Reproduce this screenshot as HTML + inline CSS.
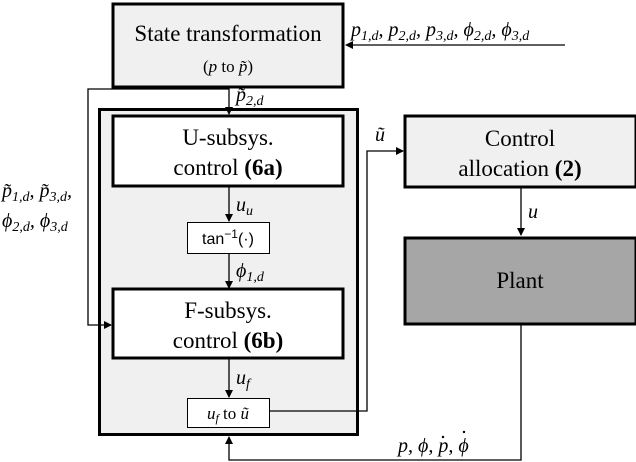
<!DOCTYPE html>
<html><head><meta charset="utf-8"><style>
html,body{margin:0;padding:0;background:#fff;}
svg{display:block;font-family:"Liberation Serif","Times New Roman",serif;}
svg text{font-family:"Liberation Serif","Times New Roman",serif;fill:#000;}
.m{font-style:italic;}
</style></head><body>
<svg width="636" height="462" viewBox="0 0 636 462" xmlns="http://www.w3.org/2000/svg" font-family="Liberation Serif, serif">
<defs><marker id="a" markerWidth="8" markerHeight="8" refX="7" refY="4" orient="auto" markerUnits="userSpaceOnUse"><path d="M0,0 L8,4 L0,8 z" fill="#000"/></marker></defs>
<rect x="99.5" y="109.5" width="258" height="325" fill="#f0f0f0" stroke="#000" stroke-width="3"/>
<rect x="113" y="4" width="230" height="83" fill="#f0f0f0" stroke="#000" stroke-width="3"/>
<text x="228" y="41" font-size="23" text-anchor="middle">State transformation</text>
<text x="228" y="72" font-size="17" text-anchor="middle">(<tspan class="m">p</tspan> to <tspan class="m">p̃</tspan>)</text>
<line x1="565" y1="45" x2="346" y2="45" stroke="#000" stroke-width="1.3" marker-end="url(#a)"/>
<text x="351" y="36" font-size="20" class="m">p<tspan font-size="14" dy="4">1,d</tspan><tspan dy="-4">, p</tspan><tspan font-size="14" dy="4">2,d</tspan><tspan dy="-4">, p</tspan><tspan font-size="14" dy="4">3,d</tspan><tspan dy="-4">, ϕ</tspan><tspan font-size="14" dy="4">2,d</tspan><tspan dy="-4">, ϕ</tspan><tspan font-size="14" dy="4">3,d</tspan></text>
<line x1="229" y1="87" x2="229" y2="114" stroke="#000" stroke-width="1.3" marker-end="url(#a)"/>
<text x="236" y="101" font-size="20" class="m">p̃<tspan font-size="14" dy="4">2,d</tspan></text>
<polyline points="229,89 88,89 88,325 111,325" fill="none" stroke="#000" stroke-width="1.3" marker-end="url(#a)"/>
<text x="2" y="197" font-size="20" class="m">p̃<tspan font-size="14" dy="4">1,d</tspan><tspan dy="-4">, p̃</tspan><tspan font-size="14" dy="4">3,d</tspan><tspan dy="-4">,</tspan></text>
<text x="2" y="227" font-size="20" class="m">ϕ<tspan font-size="14" dy="4">2,d</tspan><tspan dy="-4">, ϕ</tspan><tspan font-size="14" dy="4">3,d</tspan></text>
<rect x="113" y="116" width="230" height="70" fill="#fff" stroke="#000" stroke-width="3"/>
<text x="228" y="145" font-size="23" text-anchor="middle">U-subsys.</text>
<text x="228" y="175" font-size="23" text-anchor="middle">control <tspan font-weight="bold">(6a)</tspan></text>
<line x1="229" y1="187" x2="229" y2="221" stroke="#000" stroke-width="1.3" marker-end="url(#a)"/>
<text x="236" y="211" font-size="20" class="m">u<tspan font-size="14" dy="4">u</tspan></text>
<rect x="187.5" y="222.5" width="82" height="31" fill="#fff" stroke="#000" stroke-width="1"/>
<text x="228" y="244" font-size="16" text-anchor="middle" font-family="Liberation Sans, sans-serif" style="font-family:'Liberation Sans',sans-serif">tan<tspan font-size="12" dy="-6">−1</tspan><tspan dy="6">(·)</tspan></text>
<line x1="229" y1="254" x2="229" y2="288" stroke="#000" stroke-width="1.3" marker-end="url(#a)"/>
<text x="236" y="277" font-size="20" class="m">ϕ<tspan font-size="14" dy="4">1,d</tspan></text>
<rect x="113" y="289" width="230" height="69" fill="#fff" stroke="#000" stroke-width="3"/>
<text x="228" y="318" font-size="23" text-anchor="middle">F-subsys.</text>
<text x="228" y="348" font-size="23" text-anchor="middle">control <tspan font-weight="bold">(6b)</tspan></text>
<line x1="229" y1="359" x2="229" y2="397" stroke="#000" stroke-width="1.3" marker-end="url(#a)"/>
<text x="236" y="384" font-size="20" class="m">u<tspan font-size="14" dy="4">f</tspan></text>
<rect x="187.5" y="398.5" width="82" height="29" fill="#fff" stroke="#000" stroke-width="1"/>
<text x="228" y="419" font-size="17" text-anchor="middle"><tspan class="m">u</tspan><tspan class="m" font-size="12" dy="3">f</tspan><tspan dy="-3"> to </tspan><tspan class="m">ũ</tspan></text>
<polyline points="270,411 367,411 367,151 403,151" fill="none" stroke="#000" stroke-width="1.3" marker-end="url(#a)"/>
<text x="375" y="141" font-size="20" class="m">ũ</text>
<rect x="405" y="116" width="231" height="71" fill="#f0f0f0" stroke="#000" stroke-width="3"/>
<text x="520" y="146" font-size="23" text-anchor="middle">Control</text>
<text x="520" y="176" font-size="23" text-anchor="middle">allocation <tspan font-weight="bold">(2)</tspan></text>
<line x1="521" y1="188" x2="521" y2="235" stroke="#000" stroke-width="1.3" marker-end="url(#a)"/>
<text x="528" y="218" font-size="20" class="m">u</text>
<rect x="405" y="238" width="231" height="86" fill="#a6a6a6" stroke="#000" stroke-width="3"/>
<text x="520" y="288" font-size="23" text-anchor="middle">Plant</text>
<polyline points="521,325 521,460 229,460 229,437" fill="none" stroke="#000" stroke-width="1.3" marker-end="url(#a)"/>
<text x="398" y="452" font-size="20" class="m">p, ϕ, p, ϕ</text>
<circle cx="443" cy="437" r="1.2" fill="#000"/>
<circle cx="464" cy="432" r="1.2" fill="#000"/>
</svg>
</body></html>
